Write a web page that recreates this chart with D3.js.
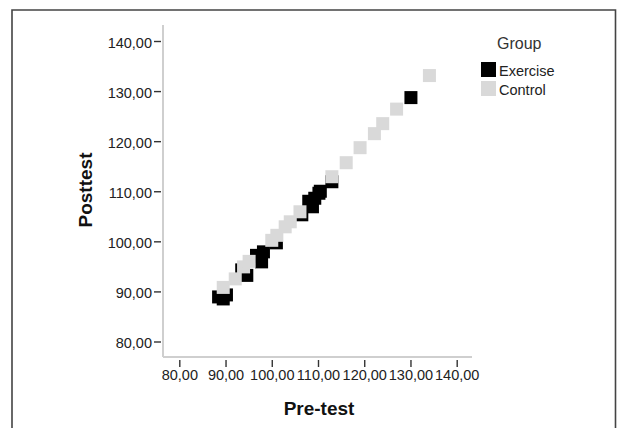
<!DOCTYPE html>
<html><head><meta charset="utf-8">
<script src="https://cdn.jsdelivr.net/npm/d3@7/dist/d3.min.js"></script>
<style>body{margin:0;background:#fff}svg{display:block}</style>
</head><body>
<script>
const xTicks = [80, 90, 100, 110, 120, 130, 140];
const yTicks = [80, 90, 100, 110, 120, 130, 140];
const groups = ["Exercise", "Control"];
const groupColors = ["#000000", "#d9d9d9"];
// Exercise group [pre-test, posttest]
const exercisePre  = [88.5, 89.5, 90.2, 93.5, 94.6, 96.7, 97.8, 98.2, 97.6, 101.0, 106.5, 108.0, 108.8, 109.3, 110.2, 110.5, 113.0, 130.1];
const exercisePost = [88.9, 88.5, 89.3, 94.3, 93.2, 97.2, 95.9, 97.9, 97.0, 99.7, 105.3, 108.0, 106.9, 108.6, 109.6, 110.0, 111.9, 128.7];
// Control group
const controlPre  = [89.5, 92.1, 93.9, 95.1, 100.0, 101.1, 102.9, 104.0, 106.1, 113.0, 116.1, 119.1, 122.2, 124.0, 127.0, 134.1];
const controlPost = [90.8, 92.5, 94.9, 96.0, 100.2, 101.2, 102.9, 103.9, 105.9, 112.9, 115.7, 118.7, 121.5, 123.5, 126.4, 133.1];

const W = 617, H = 428;
const svg = d3.select("body").append("svg").attr("width", W).attr("height", H);
const font = "'Liberation Sans', Arial, sans-serif";

// frame
svg.append("path").attr("d", `M12,${H+2} L12,10 L615.5,10 L615.5,${H+2}`)
  .attr("fill", "none").attr("stroke", "#444").attr("stroke-width", 1.6);

const x = d3.scaleLinear().domain([80, 140]).range([179.3, 456.7]);
const y = d3.scaleLinear().domain([80, 140]).range([341.5, 41]);

// axis lines
svg.append("line").attr("x1", 163).attr("x2", 163).attr("y1", 25).attr("y2", 357)
  .attr("stroke", "#cfcfcf").attr("stroke-width", 2);
svg.append("line").attr("x1", 163).attr("x2", 472).attr("y1", 357).attr("y2", 357)
  .attr("stroke", "#cfcfcf").attr("stroke-width", 2);

const fmt = d => d3.format(".2f")(d).replace(".", ",");

const yAxis = d3.axisLeft(y).tickValues(yTicks).tickFormat(fmt).tickSize(7).tickPadding(2);
const gy = svg.append("g").attr("transform", "translate(161,0)").call(yAxis);
gy.select(".domain").remove();
gy.selectAll(".tick line").attr("stroke", "#333").attr("stroke-width", 1.4);
gy.selectAll(".tick text").attr("font-family", font).attr("font-size", 14.5).attr("fill", "#222").attr("dy", "0.42em");

const xAxis = d3.axisBottom(x).tickValues(xTicks).tickFormat(fmt).tickSize(7).tickPadding(3);
const gx = svg.append("g").attr("transform", "translate(0,360)").call(xAxis);
gx.select(".domain").remove();
gx.selectAll(".tick line").attr("stroke", "#333").attr("stroke-width", 1.4);
gx.selectAll(".tick text").attr("font-family", font).attr("font-size", 14.5).attr("fill", "#222");

// points
const S = 13;
const exercise = exercisePre.map((v, i) => ({x: v, y: exercisePost[i]}));
const control = controlPre.map((v, i) => ({x: v, y: controlPost[i]}));
svg.append("g").selectAll("rect").data(exercise).join("rect")
  .attr("x", d => x(d.x) - S/2).attr("y", d => y(d.y) - S/2)
  .attr("width", S).attr("height", S).attr("fill", groupColors[0]);
svg.append("g").selectAll("rect").data(control).join("rect")
  .attr("x", d => x(d.x) - S/2).attr("y", d => y(d.y) - S/2)
  .attr("width", S).attr("height", S).attr("fill", groupColors[1]);

// axis titles
svg.append("text").attr("x", 319).attr("y", 415).attr("text-anchor", "middle")
  .attr("font-family", font).attr("font-weight", "bold").attr("font-size", 19).attr("fill", "#111").text("Pre-test");
svg.append("text").attr("transform", "translate(92,190) rotate(-90)").attr("text-anchor", "middle")
  .attr("font-family", font).attr("font-weight", "bold").attr("font-size", 19).attr("fill", "#111").text("Posttest");

// legend
svg.append("text").attr("x", 497).attr("y", 49).attr("font-family", font).attr("font-size", 16).attr("fill", "#333").text("Group");
groups.forEach((g, i) => {
  svg.append("rect").attr("x", 481).attr("y", 62 + i * 19).attr("width", 15).attr("height", 15).attr("fill", groupColors[i]);
  svg.append("text").attr("x", 499).attr("y", 76 + i * 19).attr("font-family", font).attr("font-size", 14.5).attr("fill", "#222").text(g);
});
</script>
</body></html>
